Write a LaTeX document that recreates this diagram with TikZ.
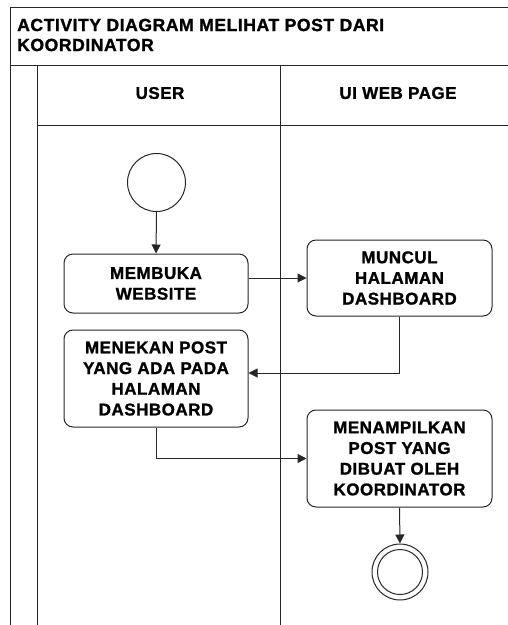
\documentclass[tikz,border=0pt]{standalone}
\usepackage{fontspec}
\setmainfont{Liberation Sans}[BoldFeatures={FakeBold=1.3,LetterSpace=3}]
\usetikzlibrary{arrows.meta}
\begin{document}
\begin{tikzpicture}[x=1pt,y=-1pt,
  lane/.style={draw=black!85, line width=1pt},
  txt/.style={font=\bfseries\fontsize{17}{20.5}\selectfont, inner sep=0pt},
  act/.style={draw=black!85, line width=1pt, rounded corners=9pt, align=center,
    inner sep=0pt, font=\bfseries\fontsize{17}{20.7}\selectfont},
  flow/.style={draw=black!85, line width=1pt, -{Triangle[length=9pt,width=9pt]}}]
\useasboundingbox (0,0) rectangle (508,625);
% swimlane frame
\draw[lane] (10,625) -- (10,7) -- (508,7);
\draw[lane] (10,65) -- (508,65);
\draw[lane] (37,125) -- (508,125);
\draw[lane] (37,65) -- (37,625);
\draw[lane] (280,65) -- (280,625);
% title and lane headers
\node[txt, anchor=west, align=left, font=\bfseries\fontsize{17.6}{20}\selectfont] (title) at (17,35)
  {\bfseries ACTIVITY DIAGRAM MELIHAT POST DARI\\\bfseries KOORDINATOR};
\node[txt] (huser) at (160,93) {USER};
\node[txt] (hweb) at (398,93) {UI WEB PAGE};
% activities
\node[draw=black!85, line width=1pt, circle, minimum size=58pt, inner sep=0pt] (start) at (156.5,182.5) {};
\node[act, minimum width=184pt, minimum height=59pt] (membuka) at (156,283.5) {MEMBUKA\\WEBSITE};
\node[act, minimum width=185pt, minimum height=76pt] (muncul) at (399.5,278) {MUNCUL\\HALAMAN\\DASHBOARD};
\node[act, minimum width=184pt, minimum height=97pt] (menekan) at (156,378.5) {MENEKAN POST\\YANG ADA PADA\\HALAMAN\\DASHBOARD};
\node[act, minimum width=185pt, minimum height=97pt] (tampil) at (399.5,458.5) {MENAMPILKAN\\POST YANG\\DIBUAT OLEH\\KOORDINATOR};
\node[draw=black!85, line width=1pt, circle, minimum size=56pt, inner sep=0pt] (stop) at (400,572) {};
\node[draw=black!85, line width=1pt, circle, minimum size=45pt, inner sep=0pt] (stopin) at (stop) {};
% control flow
\draw[flow] (start.south) -- (membuka.north);
\draw[flow] (membuka.east |- muncul.west) -- (muncul.west);
\draw[flow] (muncul.south) |- ([yshift=5.5pt]menekan.east);
\draw[flow] (menekan.south) |- (tampil.west);
\draw[flow] (tampil.south) -- (stop.north);
\end{tikzpicture}
\end{document}
